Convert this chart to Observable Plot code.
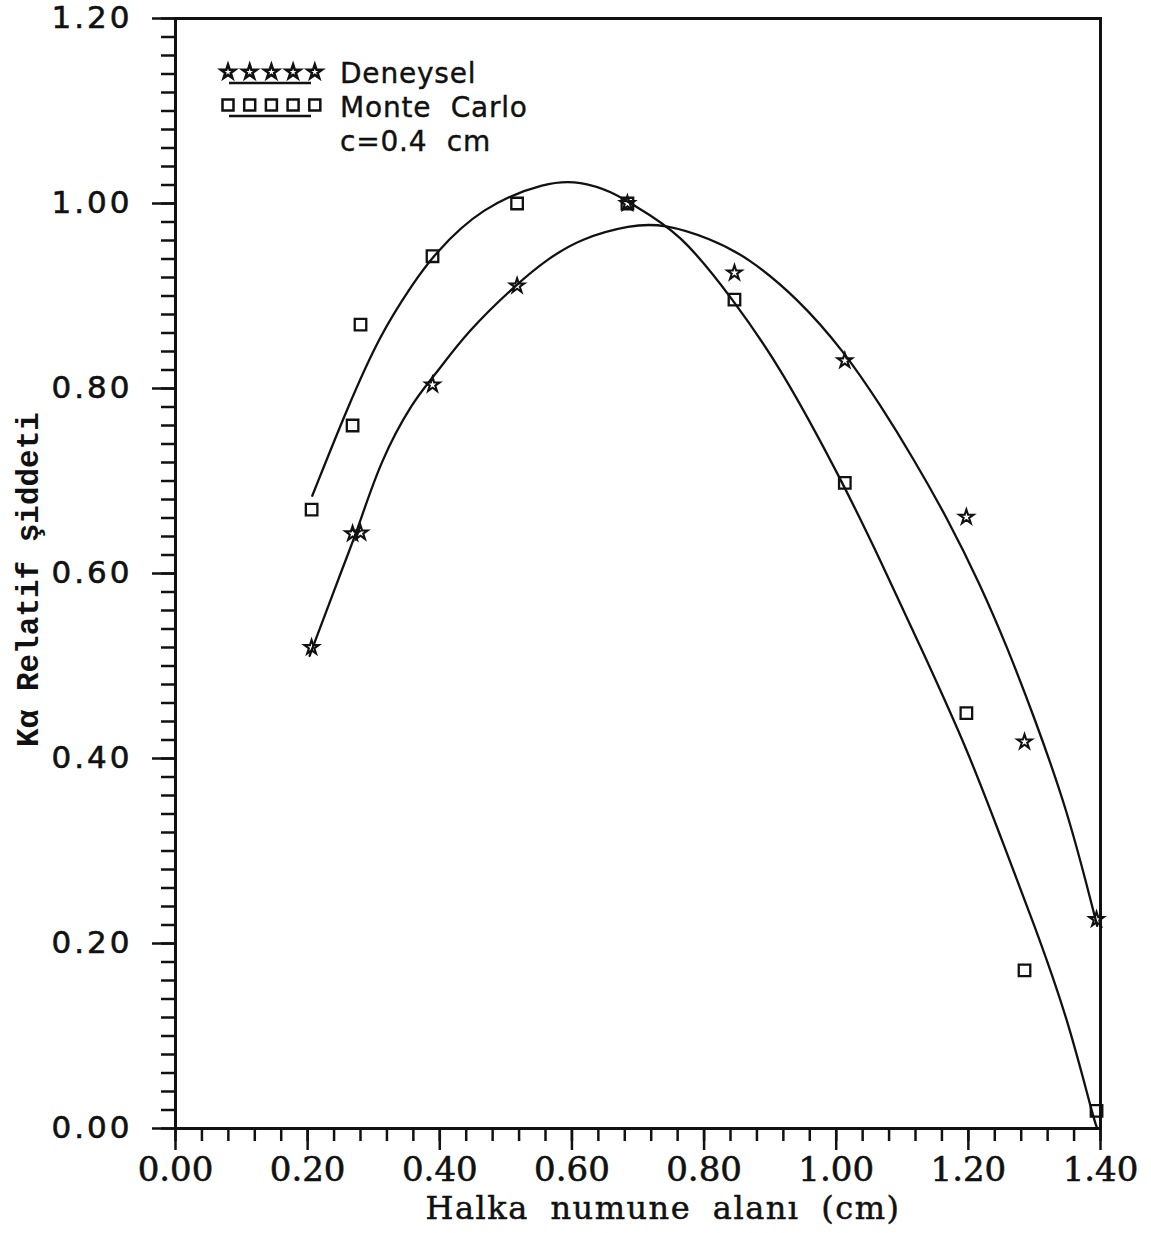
<!DOCTYPE html>
<html>
<head>
<meta charset="utf-8">
<script src="https://cdn.jsdelivr.net/npm/d3@7"></script>
<script src="https://cdn.jsdelivr.net/npm/@observablehq/plot@0.6"></script>
<style>
  body { margin: 0; background: #fff; }
  #chart { position: relative; width: 1151px; height: 1233px; }
</style>
</head>
<body>
<div id="chart"></div>
<script>
// ---- Data ----
const sampleX      = [0.206, 0.268, 0.280, 0.389, 0.517, 0.684, 0.846, 1.013, 1.197, 1.285, 1.394];
const deneyselY    = [0.520, 0.643, 0.644, 0.804, 0.911, 1.000, 0.925, 0.830, 0.661, 0.418, 0.226];
const monteCarloY  = [0.669, 0.760, 0.869, 0.943, 1.000, 1.000, 0.896, 0.698, 0.449, 0.171, 0.019];

// fitted curves
const monteCarloFitX = [0.207, 0.260, 0.310, 0.360, 0.390, 0.462, 0.563, 0.613, 0.663, 0.686, 0.764, 0.845, 0.916, 1.011, 1.067, 1.132, 1.199, 1.249, 1.299, 1.350, 1.389, 1.395];
const monteCarloFitY = [0.684, 0.779, 0.859, 0.914, 0.944, 0.996, 1.024, 1.024, 1.012, 1.001, 0.969, 0.895, 0.823, 0.697, 0.614, 0.514, 0.409, 0.315, 0.222, 0.120, 0.012, 0.000];
const deneyselFitX   = [0.203, 0.257, 0.275, 0.310, 0.360, 0.390, 0.442, 0.518, 0.563, 0.613, 0.689, 0.739, 0.810, 0.866, 0.941, 1.011, 1.067, 1.117, 1.168, 1.218, 1.259, 1.299, 1.350, 1.389, 1.395];
const deneyselFitY   = [0.511, 0.614, 0.646, 0.722, 0.787, 0.812, 0.862, 0.914, 0.940, 0.962, 0.977, 0.978, 0.962, 0.942, 0.898, 0.841, 0.782, 0.724, 0.660, 0.588, 0.520, 0.446, 0.344, 0.236, 0.219];

const xMajorTicks = [0.00, 0.20, 0.40, 0.60, 0.80, 1.00, 1.20, 1.40];
const yMajorTicks = [0.00, 0.20, 0.40, 0.60, 0.80, 1.00, 1.20];
const xMinorStep = 0.04;
const yMinorStep = 0.02;

const legendLabels = ["Deneysel", "Monte\u00a0\u00a0Carlo", "c=0.4\u00a0\u00a0cm"];
const xLabel = "Halka numune alanı (cm)";
const yLabel = "Kα Relatif şiddeti";

// ---- tables built from the arrays ----
const deneysel   = sampleX.map((x, i) => ({x, y: deneyselY[i]}));
const monteCarlo = sampleX.map((x, i) => ({x, y: monteCarloY[i]}));
const mcFit  = monteCarloFitX.map((x, i) => ({x, y: monteCarloFitY[i]}));
const denFit = deneyselFitX.map((x, i) => ({x, y: deneyselFitY[i]}));
const xMinorTicks = d3.range(0, 1.4 + 1e-9, xMinorStep);
const yMinorTicks = d3.range(0, 1.2 + 1e-9, yMinorStep);

const ink = "#111";
const plot = Plot.plot({
  width: 1151,
  height: 1233,
  marginTop: 18,
  marginBottom: 105,
  marginLeft: 175,
  marginRight: 51,
  x: {domain: [0, 1.4], label: null},
  y: {domain: [0, 1.2], label: null},
  style: {background: "#fff", color: ink, overflow: "visible"},
  marks: [
    Plot.axisX(xMinorTicks, {tickSize: 13, strokeWidth: 2.5, tickFormat: () => "", label: null}),
    Plot.axisX(xMajorTicks, {tickSize: 22, strokeWidth: 2.5, tickPadding: 6, tickFormat: d => d.toFixed(2),
      fontFamily: "DejaVu Serif", fontSize: 34, label: null}),
    Plot.axisY(yMinorTicks, {tickSize: 14, strokeWidth: 2.5, tickFormat: () => "", label: null}),
    Plot.axisY(yMajorTicks, {tickSize: 23, strokeWidth: 2.5, tickPadding: 20, tickFormat: d => d.toFixed(2),
      fontFamily: "DejaVu Sans", fontSize: 31, label: null}),
    Plot.frame({stroke: ink, strokeWidth: 3}),
    Plot.line(mcFit,  {x: "x", y: "y", curve: "basis", stroke: ink, strokeWidth: 2.3}),
    Plot.line(denFit, {x: "x", y: "y", curve: "basis", stroke: ink, strokeWidth: 2.3}),
    Plot.dot(monteCarlo, {x: "x", y: "y", symbol: "square", r: 6.5, fill: "none", stroke: ink, strokeWidth: 2.3}),
    Plot.dot(deneysel,   {x: "x", y: "y", symbol: "star", r: 4.5, fill: "none", stroke: ink, strokeWidth: 2.1}),
    Plot.text([xLabel], {frameAnchor: "bottom", dx: 25, dy: 80, lineAnchor: "middle", textAnchor: "middle",
      fontFamily: "DejaVu Serif", fontSize: 32, fill: ink}),
    Plot.text([yLabel], {frameAnchor: "left", rotate: -90, dx: -147, dy: 6, lineAnchor: "middle", textAnchor: "middle",
      fontFamily: "Liberation Mono", fontWeight: "bold", fontSize: 31, fill: ink})
  ]
});

document.getElementById("chart").appendChild(plot);

const svg = d3.select(plot);
svg.selectAll('g[aria-label="y-axis tick label"] text').style("letter-spacing", "3px")
  .style("stroke", ink).style("stroke-width", "0.6px");
svg.selectAll('g[aria-label="x-axis tick label"] text')
  .style("stroke", ink).style("stroke-width", "0.6px");
svg.selectAll('text').filter(function(){ return this.textContent === xLabel; })
  .style("letter-spacing", "1.5px").style("word-spacing", "10px")
  .style("stroke", ink).style("stroke-width", "0.5px");

// ---- legend (inside the frame, top-left) ----
const lg = svg.append("g").attr("aria-label", "legend").attr("text-anchor", "start");
const starPath = d3.symbol(d3.symbolStar, Math.PI * 4.5 * 4.5)();
const squarePath = d3.symbol(d3.symbolSquare, Math.PI * 6.2 * 6.2)();
const symbolsX = d3.range(5).map(i => 228 + i * 21.7);
lg.append("g").selectAll("path").data(symbolsX).join("path")
  .attr("d", starPath).attr("transform", d => `translate(${d},72)`)
  .attr("fill", "none").attr("stroke", ink).attr("stroke-width", 2.5);
lg.append("g").selectAll("path").data(symbolsX).join("path")
  .attr("d", squarePath).attr("transform", d => `translate(${d},105)`)
  .attr("fill", "none").attr("stroke", ink).attr("stroke-width", 2.5);
lg.append("line").attr("x1", 229).attr("x2", 311).attr("y1", 83).attr("y2", 83).attr("stroke", ink).attr("stroke-width", 2.5);
lg.append("line").attr("x1", 229).attr("x2", 311).attr("y1", 116).attr("y2", 116).attr("stroke", ink).attr("stroke-width", 2.5);
const baselines = [83, 117, 151];
legendLabels.forEach((t, i) => {
  lg.append("text").attr("x", 340).attr("y", baselines[i]).attr("text-anchor", "start")
    .attr("font-family", "DejaVu Sans").attr("font-size", 28).attr("fill", ink)
    .style("letter-spacing", "0.8px")
    .style("stroke", ink).style("stroke-width", "0.4px").text(t);
});
</script>
</body>
</html>
